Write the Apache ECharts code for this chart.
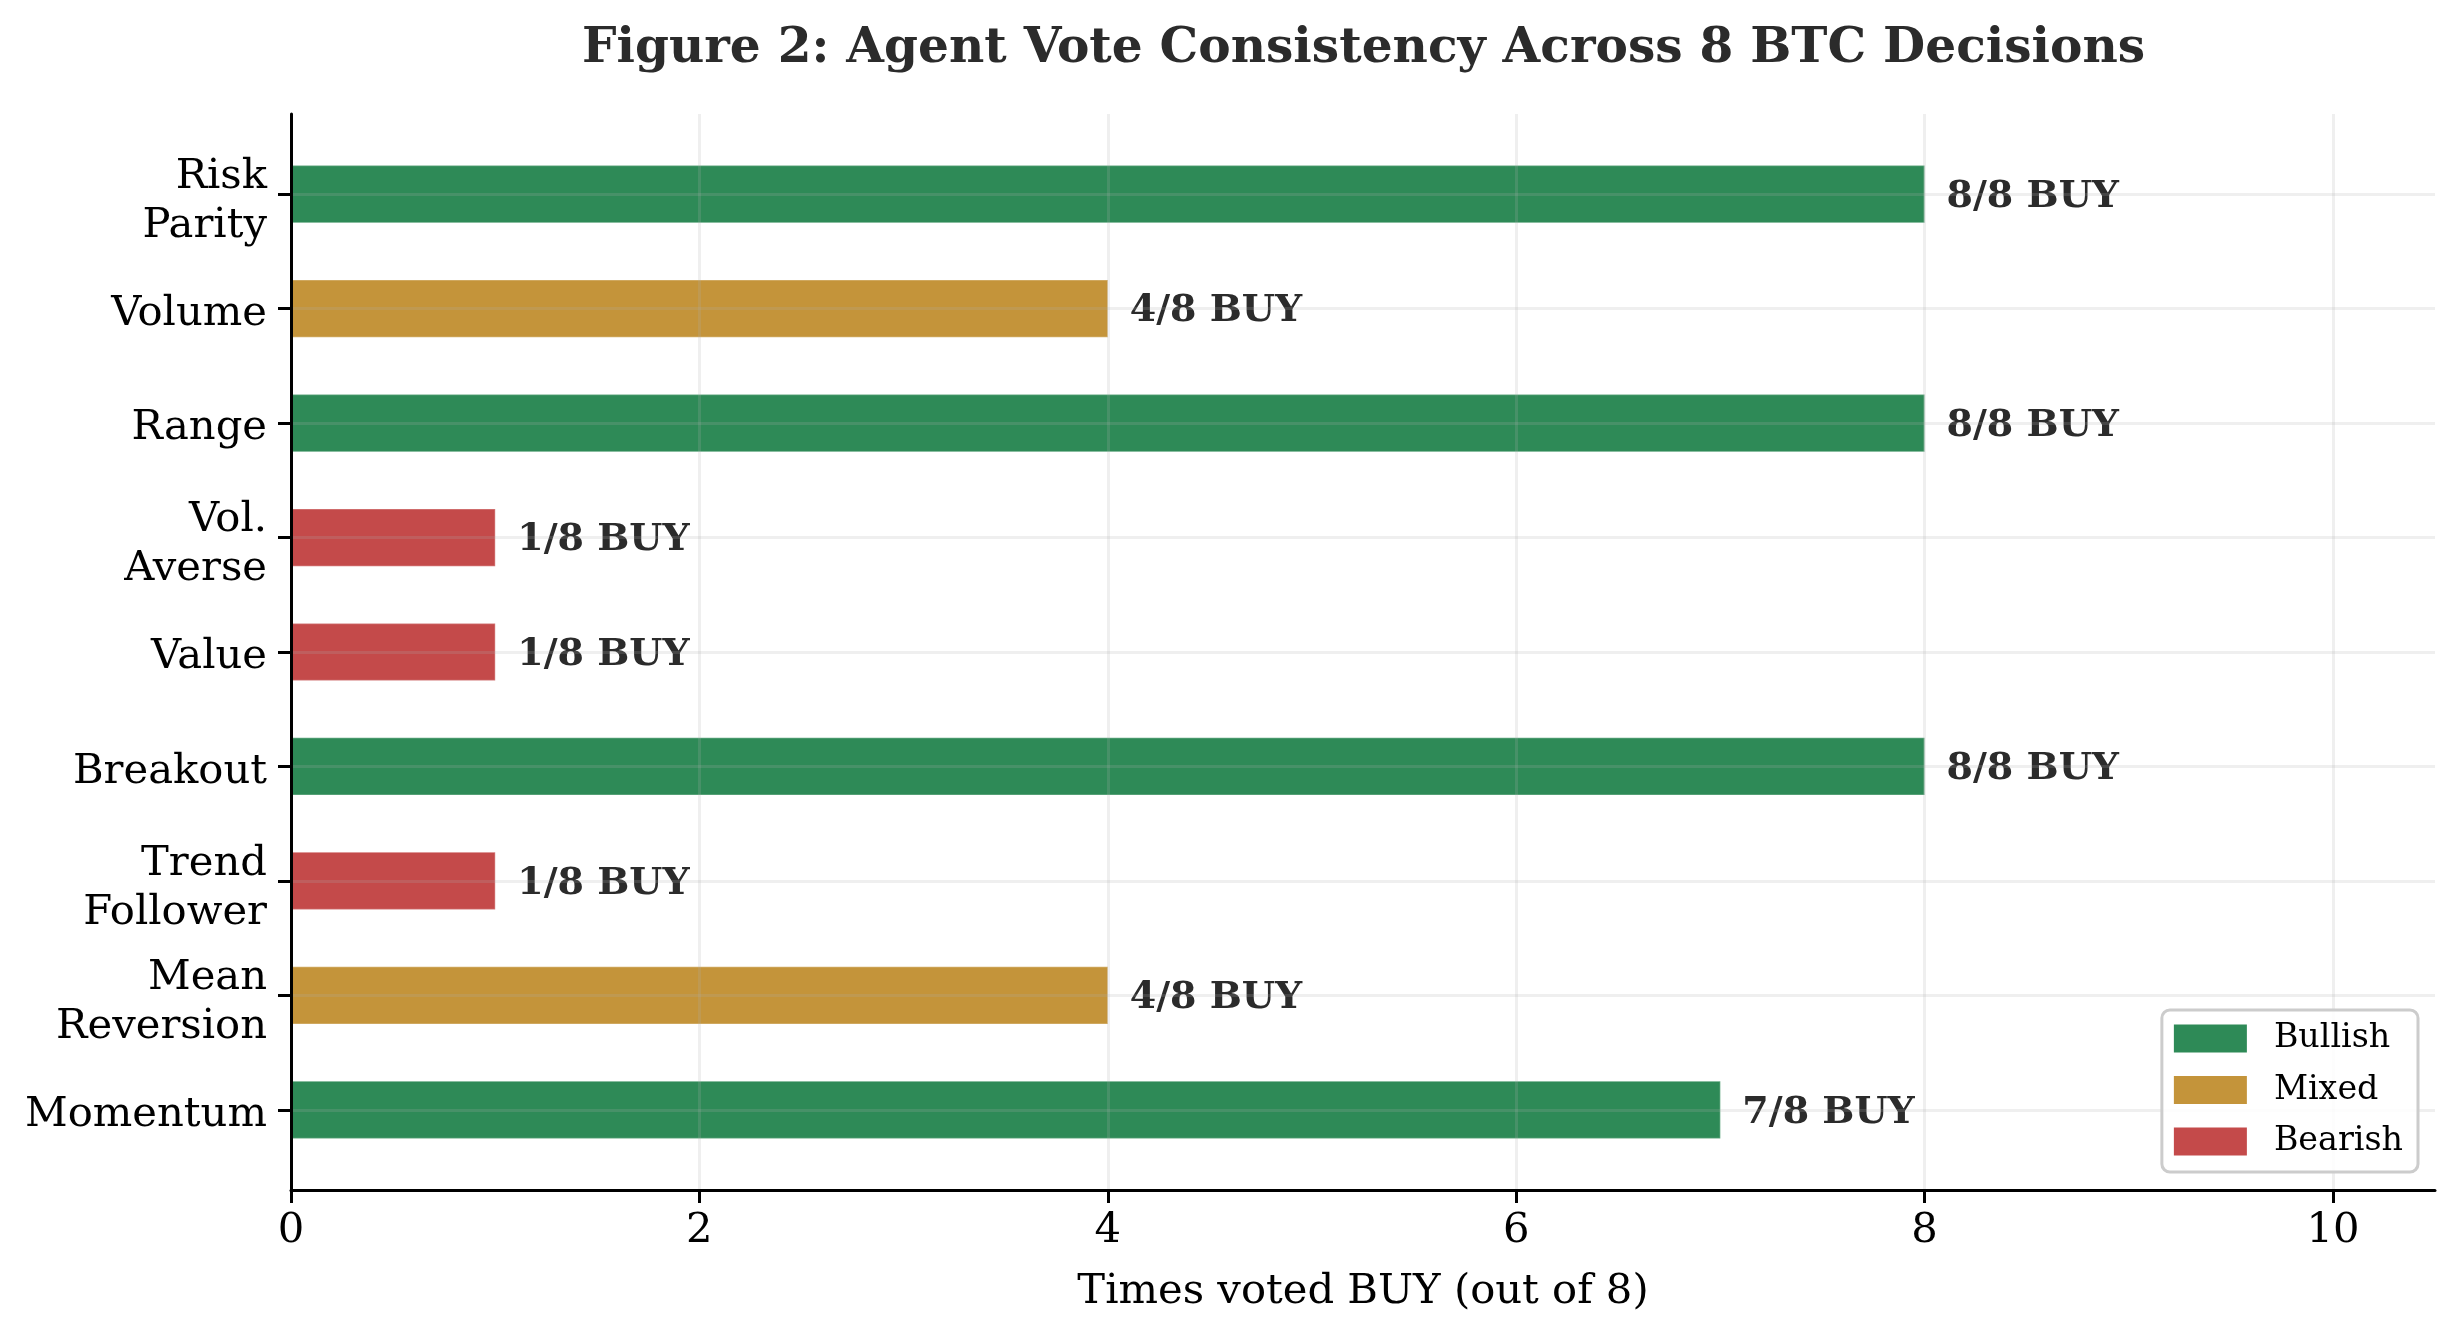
<!DOCTYPE html>
<html>
<head>
<meta charset="utf-8">
<script src="https://cdn.jsdelivr.net/npm/echarts@6/dist/echarts.min.js"></script>
<style>
html,body{margin:0;padding:0;background:#fff;}
#chart{width:2460px;height:1336px;}
</style>
</head>
<body>
<div id="chart"></div>
<script>
// ---- data (bottom to top) ----
const agents = ['Momentum', 'Mean\nReversion', 'Trend\nFollower', 'Breakout', 'Value', 'Vol.\nAverse', 'Range', 'Volume', 'Risk\nParity'];
const buyVotes = [7, 4, 1, 8, 1, 1, 8, 4, 8];
const sentiment = ['Bullish', 'Mixed', 'Bearish', 'Bullish', 'Bearish', 'Bearish', 'Bullish', 'Mixed', 'Bullish'];
const totalDecisions = 8;
const groups = ['Bullish', 'Mixed', 'Bearish'];
const xTicks = [0, 2, 4, 6, 8, 10];
const yTicks = agents.map((_, i) => i);

// ---- styles ----
const FONT = 'DejaVu Serif';
const groupColors = { Bullish: '#2e8a57', Mixed: '#c4943a', Bearish: '#c44a4a' };
const BAR_H = 0.5;
const gridColor = 'rgba(176,176,176,0.2)';

function renderBar(params, api) {
  const v = api.value(0), y = api.value(1);
  const p0 = api.coord([0, y + BAR_H / 2]);
  const p1 = api.coord([v, y - BAR_H / 2]);
  const mid = api.coord([v, y]);
  return {
    type: 'group',
    children: [
      {
        type: 'rect',
        shape: { x: p0[0], y: p0[1], width: p1[0] - p0[0], height: p1[1] - p0[1] },
        style: { fill: api.visual('color'), stroke: 'rgba(255,255,255,0.25)', lineWidth: 1.5 }
      },
      {
        type: 'text',
        x: mid[0] + 22,
        y: mid[1] + 3,
        style: {
          text: v + '/' + totalDecisions + ' BUY',
          fontFamily: FONT, fontWeight: 'bold', fontSize: 38,
          fill: '#2b2b2b', verticalAlign: 'middle', align: 'left'
        }
      }
    ]
  };
}

const series = groups.map(g => ({
  name: g,
  type: 'custom',
  z: 2,
  itemStyle: { color: groupColors[g] },
  renderItem: renderBar,
  encode: { x: 0, y: 1 },
  data: buyVotes.map((v, i) => [v, i]).filter((d, i) => sentiment[i] === g)
}));

const labelText = { fontFamily: FONT, fontSize: 41.7, color: '#000', lineHeight: 49, align: 'right' };

const chart = echarts.init(document.getElementById('chart'), null, { renderer: 'canvas' });
chart.setOption({
  backgroundColor: '#ffffff',
  animation: false,
  title: {
    text: 'Figure 2: Agent Vote Consistency Across 8 BTC Decisions',
    left: 582, top: 25, padding: 0,
    textStyle: { fontFamily: FONT, fontWeight: 'bold', fontSize: 48.6, color: '#2b2b2b' }
  },
  grid: { left: 291, right: 25, top: 114, bottom: 146, containLabel: false },
  legend: {
    orient: 'vertical',
    right: 42, bottom: 164,
    data: groups,
    icon: 'rect',
    itemWidth: 73, itemHeight: 28, itemGap: 18.5,
    padding: [12, 15, 14, 12],
    backgroundColor: 'rgba(255,255,255,0.85)',
    borderColor: '#cccccc', borderWidth: 3, borderRadius: 8,
    textStyle: { fontFamily: FONT, fontSize: 33.3, color: '#000', lineHeight: 28, padding: [0, 0, 0, 22] }
  },
  xAxis: {
    type: 'value', min: 0, max: 10.5, z: 3,
    name: 'Times voted BUY (out of 8)', nameLocation: 'middle', nameGap: 81,
    nameTextStyle: { fontFamily: FONT, fontSize: 41.7, color: '#000' },
    axisLine: { show: true, onZero: false, lineStyle: { color: '#000', width: 3 } },
    axisTick: { show: true, length: 13, lineStyle: { color: '#000', width: 3 }, customValues: xTicks },
    axisLabel: { fontFamily: FONT, fontSize: 41.7, color: '#000', margin: 20, customValues: xTicks },
    splitLine: { show: true, lineStyle: { color: gridColor, width: 3 } }
  },
  yAxis: {
    type: 'value', min: -0.7, max: 8.7, z: 3,
    axisLine: { show: true, onZero: false, lineStyle: { color: '#000', width: 3 } },
    axisTick: { show: true, length: 13, lineStyle: { color: '#000', width: 3 }, customValues: yTicks },
    axisLabel: {
      fontFamily: FONT, fontSize: 41.7, color: '#000', margin: 24, lineHeight: 49, align: 'right',
      customValues: yTicks,
      formatter: v => {
        const lines = (agents[Math.round(v)] || '').split('\n');
        if (lines.length === 1) return '{f|' + lines[0] + '}';
        return '{s| }\n' + lines.map(l => '{r|' + l + '}').join('\n');
      },
      rich: {
        f: Object.assign({}, labelText, { padding: [11, 0, 0, 0] }),
        r: Object.assign({}, labelText),
        s: { fontSize: 1, lineHeight: 15 }
      }
    },
    splitLine: { show: true, lineStyle: { color: gridColor, width: 3 } }
  },
  series: series
});
</script>
</body>
</html>
